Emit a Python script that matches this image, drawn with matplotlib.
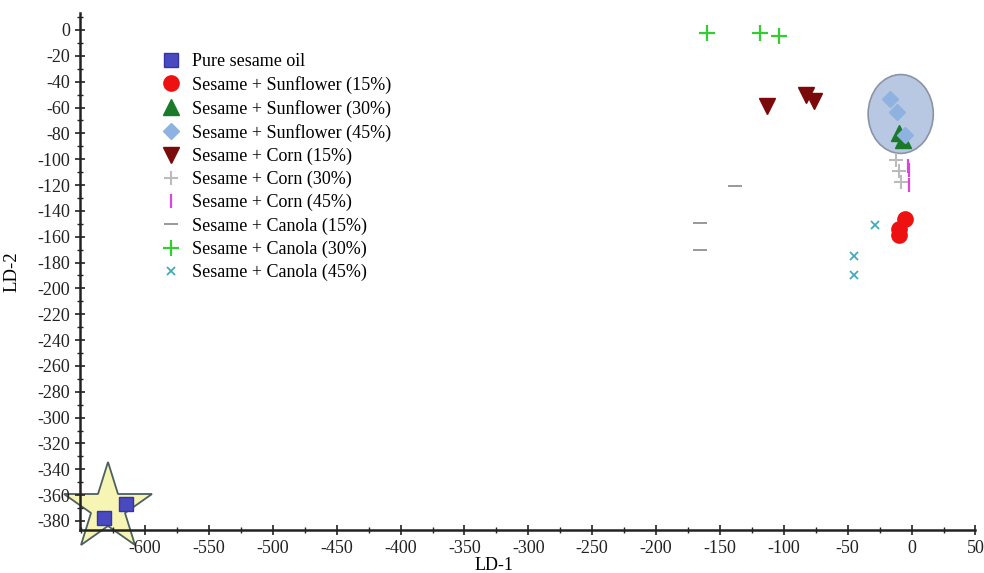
import matplotlib
matplotlib.use("Agg")
import matplotlib.pyplot as plt
from matplotlib.patches import Ellipse
from matplotlib.ticker import MultipleLocator

plt.rcParams['font.family'] = ['Liberation Serif', 'DejaVu Serif']
plt.rcParams['axes.unicode_minus'] = False

# ---- data ----
pure_x = [-632, -615]
pure_y = [-377.5, -367]
sun15_x = [-5, -9.5, -9.5]
sun15_y = [-146.5, -154, -158.5]
sun30_x = [-10, -7]
sun30_y = [-79.5, -85]
sun45_x = [-16.5, -11.5, -5.5]
sun45_y = [-53.5, -63.5, -81.5]
corn15_x = [-113.5, -83, -76]
corn15_y = [-58.5, -50.5, -55]
corn30_x = [-12, -9.5, -8]
corn30_y = [-100.5, -109, -118]
corn45_x = [-3, -2, -2]
corn45_y = [-105, -108, -120]
can15_x = [-138.5, -166, -166]
can15_y = [-121, -149, -170.5]
can30_x = [-160, -119, -103.5]
can30_y = [-2.5, -2.5, -4.5]
can45_x = [-29, -45, -45]
can45_y = [-151, -175, -190]

star_center = (-629, -370)
ellipse_center = (-8.5, -65)
ellipse_size = (51, 61)

xticks = list(range(-600, 51, 50))
yticks = list(range(-380, 1, 20))

fig = plt.figure(figsize=(9.84, 5.73), dpi=100)
ax = fig.add_axes([0.0813, 0.075, 0.910, 0.902])

# highlight shapes
ax.add_patch(Ellipse(ellipse_center, ellipse_size[0], ellipse_size[1],
                     facecolor='#b8c8e2', edgecolor='#8a94a6', lw=1.2, zorder=1))
ax.plot([star_center[0]], [star_center[1]], marker='*', markersize=66,
        markerfacecolor='#f6f5b4', markeredgecolor='#4d6060', markeredgewidth=1.3,
        clip_on=False, zorder=1, linestyle='none')

ax.plot(pure_x, pure_y, 's', color='#4a4ac0', mec='#3333aa', ms=10,
        label='Pure sesame oil', zorder=3)
ax.plot(sun15_x, sun15_y, 'o', color='#ee1111', ms=11,
        label='Sesame + Sunflower (15%)', zorder=3)
ax.plot(sun30_x, sun30_y, '^', color='#1a7a2a', ms=12,
        label='Sesame + Sunflower (30%)', zorder=3)
ax.plot(sun45_x, sun45_y, 'D', color='#8fb3e0', ms=8,
        label='Sesame + Sunflower (45%)', zorder=4)
ax.plot(corn15_x, corn15_y, 'v', color='#7a0a0a', ms=12,
        label='Sesame + Corn (15%)', zorder=3)
ax.plot(corn30_x, corn30_y, '+', color='#bbbbbb', ms=10, mew=1.5,
        label='Sesame + Corn (30%)', zorder=3)
ax.plot(corn45_x, corn45_y, '|', color='#dd44dd', ms=10, mew=1.6,
        label='Sesame + Corn (45%)', zorder=3)
ax.plot(can15_x, can15_y, '_', color='#999999', ms=10, mew=1.4,
        label='Sesame + Canola (15%)', zorder=3)
ax.plot(can30_x, can30_y, '+', color='#33cc33', ms=11, mew=1.6,
        label='Sesame + Canola (30%)', zorder=3)
ax.plot(can45_x, can45_y, 'x', color='#44aabb', ms=6, mew=1.3,
        label='Sesame + Canola (45%)', zorder=3)

ax.set_xlim(-651, 50)
ax.set_ylim(-387, 13)
ax.set_xticks(xticks)
ax.set_yticks(yticks)
ax.xaxis.set_minor_locator(MultipleLocator(25))
ax.yaxis.set_minor_locator(MultipleLocator(10))
ax.tick_params(axis='both', which='major', direction='inout', length=7, width=1.2,
               labelsize=13, colors='#222222')
ax.tick_params(axis='both', which='minor', direction='inout', length=4, width=1.0,
               colors='#222222')
for s in ['top', 'right']:
    ax.spines[s].set_visible(False)
for s in ['left', 'bottom']:
    ax.spines[s].set_linewidth(1.8)
    ax.spines[s].set_color('#222222')

ax.set_xlabel('LD-1', fontsize=13, labelpad=2)
ax.set_ylabel('LD-2', fontsize=13.5, labelpad=2)
ax.yaxis.set_label_coords(-0.066, 0.5)
ax.xaxis.set_label_coords(0.462, -0.053)

leg = ax.legend(loc='upper left', bbox_to_anchor=(0.082, 0.937), frameon=False,
                fontsize=13, handletextpad=0.55, labelspacing=0.33,
                handlelength=1.2, borderaxespad=0)

fig.savefig('out.png', dpi=100)
